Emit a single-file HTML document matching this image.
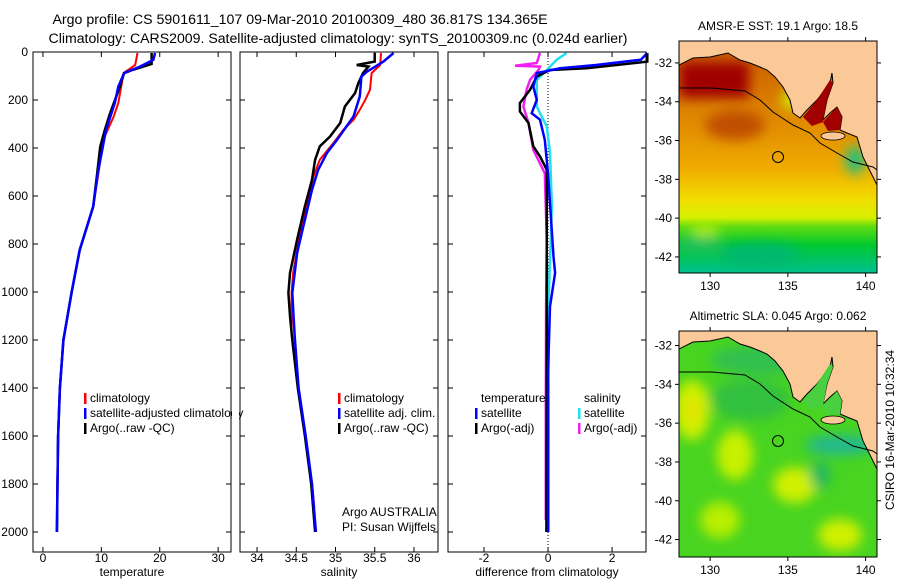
<!DOCTYPE html>
<html><head><meta charset="utf-8"><style>
html,body{margin:0;padding:0;background:#fff}
svg{display:block;font-family:"Liberation Sans",sans-serif}
</style></head><body>
<svg id="fig" width="900" height="580" viewBox="0 0 900 580">
<defs>
<linearGradient id="sstg" x1="0" y1="0" x2="0" y2="1">
<stop offset="0" stop-color="#c65800"/><stop offset="0.35" stop-color="#e08a00"/>
<stop offset="0.55" stop-color="#f0ac00"/><stop offset="0.68" stop-color="#f2dc00"/>
<stop offset="0.76" stop-color="#d8f000"/><stop offset="0.8" stop-color="#60dc10"/>
<stop offset="0.88" stop-color="#00c830"/><stop offset="1" stop-color="#00c090"/>
</linearGradient>
<filter id="bl" x="-50%" y="-50%" width="200%" height="200%"><feGaussianBlur stdDeviation="6"/></filter>
<clipPath id="c1"><rect x="679" y="41" width="198" height="232"/></clipPath>
<clipPath id="c2"><rect x="679" y="331" width="198" height="226"/></clipPath>
</defs>
<text x="300" y="24" text-anchor="middle" font-size="14.2">Argo profile: CS 5901611_107 09-Mar-2010 20100309_480 36.817S 134.365E</text>
<text x="338" y="43" text-anchor="middle" font-size="14.1">Climatology: CARS2009. Satellite-adjusted climatology: synTS_20100309.nc (0.024d earlier)</text>

<!-- SST map -->
<g>
<text x="778" y="30" text-anchor="middle" font-size="12">AMSR-E SST: 19.1 Argo: 18.5</text>
<g clip-path="url(#c1)">
<rect x="679" y="41" width="198" height="232" fill="url(#sstg)"/>
<g filter="url(#bl)">
<rect x="679" y="62" width="70" height="36" fill="#a00000"/>
<ellipse cx="735" cy="125" rx="30" ry="15" fill="#c05000"/>
<ellipse cx="760" cy="255" rx="40" ry="12" fill="#00b870"/>
<ellipse cx="700" cy="245" rx="25" ry="8" fill="#20c060"/>
<ellipse cx="705" cy="230" rx="15" ry="6" fill="#b8ee00"/>
<ellipse cx="855" cy="160" rx="10" ry="14" fill="#20c080"/>
<ellipse cx="790" cy="100" rx="8" ry="10" fill="#d0f000"/>
</g>
<path d="M679,41 L679,65 L693,58 L710,57 L728,53 L740,60 L750,63 L760,67 L767,70 L775,77 L783,87 L790,100 L793,113 L800,118 L807,110 L817,100 L830,83 L832,73 L833,83 L827,100 L823,120 L830,113 L837,107 L842,117 L840,130 L847,133 L857,137 L860,147 L863,157 L873,177 L877,185 L877,41 Z" fill="#fbc898" stroke="#000" stroke-width="1"/>
<path d="M803,117 L817,100 L830,80 L833,83 L827,100 L823,122 L812,126 Z M823,122 L837,107 L842,117 L840,130 L828,131 Z" fill="#a00000"/>
<ellipse cx="833" cy="136" rx="12" ry="4" fill="#fbc898" stroke="#000" stroke-width="0.8"/>
<path d="M679,88 L712,88 L745,91 L760,100 L773,112 L793,125 L810,133 L820,143 L837,153 L853,162 L873,167 L877,170" fill="none" stroke="#000" stroke-width="1"/>
<circle cx="778" cy="157" r="5.5" fill="none" stroke="#000" stroke-width="1"/>
</g>
</g>

<!-- SLA map -->
<g>
<text x="778" y="320" text-anchor="middle" font-size="12">Altimetric SLA: 0.045 Argo: 0.062</text>
<g clip-path="url(#c2)">
<rect x="679" y="331" width="198" height="226" fill="#48d420"/>
<g filter="url(#bl)">
<ellipse cx="692" cy="410" rx="18" ry="30" fill="#d0f000"/>
<ellipse cx="693" cy="410" rx="8" ry="10" fill="#e8e000"/>
<ellipse cx="735" cy="455" rx="18" ry="25" fill="#c8f000"/>
<ellipse cx="795" cy="485" rx="22" ry="18" fill="#d0f000"/>
<ellipse cx="840" cy="535" rx="22" ry="16" fill="#d0f000"/>
<ellipse cx="720" cy="520" rx="20" ry="18" fill="#b8ee00"/>
<ellipse cx="820" cy="475" rx="10" ry="14" fill="#20b860"/>
<ellipse cx="750" cy="400" rx="40" ry="20" fill="#30c040"/>
<ellipse cx="840" cy="445" rx="35" ry="10" fill="#20b890"/>
<ellipse cx="760" cy="360" rx="50" ry="15" fill="#30c050"/>
</g>
<g transform="translate(0,284)">
<path d="M679,41 L679,65 L693,58 L710,57 L728,53 L740,60 L750,63 L760,67 L767,70 L775,77 L783,87 L790,100 L793,113 L800,118 L807,110 L817,100 L830,83 L832,73 L833,83 L827,100 L823,120 L830,113 L837,107 L842,117 L840,130 L847,133 L857,137 L860,147 L863,157 L873,177 L877,185 L877,41 Z" fill="#fbc898" stroke="#000" stroke-width="1"/>
<path d="M803,117 L817,100 L830,80 L833,83 L827,100 L823,122 L812,126 Z M823,122 L837,107 L842,117 L840,130 L828,131 Z" fill="#48d040"/>
<ellipse cx="833" cy="136" rx="12" ry="4" fill="#fbc898" stroke="#000" stroke-width="0.8"/>
<path d="M679,88 L712,88 L745,91 L760,100 L773,112 L793,125 L810,133 L820,143 L837,153 L853,162 L873,167 L877,170" fill="none" stroke="#000" stroke-width="1"/>
<circle cx="778" cy="157" r="5.5" fill="none" stroke="#000" stroke-width="1"/>
</g>
</g>
</g>
<text transform="translate(894,430) rotate(-90)" text-anchor="middle" font-size="12">CSIRO 16-Mar-2010 10:32:34</text>
<g id="dyn"></g>
</svg>
<script>
// ---- data ----
const tClimP = [4,54,88,130,213,270,367,505,644,825,1004,1200,1400,1600,1900];
const tClimV = [16.2,15.8,13.8,13.5,12.9,12.1,10.3,9.5,8.6,6.3,4.9,3.5,2.9,2.6,2.4];
const tSatP = [4,33,61,88,144,213,325,505,644,825,1004,1200,1400,1600,2000];
const tSatV = [19.2,18.9,16.6,13.9,12.9,12.3,10.8,9.4,8.6,6.3,4.9,3.5,2.9,2.6,2.4];
const tArgoP = [4,33,50,75,88,150,255,325,395,505,644,825,1004,1200,1400,1600,2000];
const tArgoV = [18.6,18.6,18.6,15.3,13.9,13.1,11.5,10.6,9.8,9.3,8.6,6.3,4.9,3.5,2.9,2.6,2.4];
const sClimP = [4,54,88,157,199,241,282,324,380,449,518,616,755,921,1004,1171,1400,1600,1800,1900];
const sClimV = [35.58,35.57,35.46,35.44,35.38,35.31,35.23,35.10,34.97,34.80,34.72,34.65,34.55,34.46,34.44,34.44,34.52,34.62,34.70,34.73];
const sSatP = [4,40,82,102,185,268,310,366,421,491,574,727,838,1004,1185,1400,1600,1800,2000];
const sSatV = [35.74,35.61,35.40,35.33,35.31,35.23,35.14,35.02,34.89,34.78,34.70,34.59,34.51,34.45,34.48,34.53,34.62,34.70,34.75];
const sArgoP = [4,40,54,61,88,130,171,227,296,352,393,449,532,643,782,921,1004,1101,1200,1400,1600,1800,2000];
const sArgoV = [35.50,35.50,35.27,35.42,35.35,35.29,35.25,35.12,35.06,34.93,34.80,34.74,34.70,34.61,34.51,34.42,34.40,34.42,34.45,34.52,34.61,34.69,34.74];
const dTSatP = [4,32,54,68,88,144,199,255,282,366,505,852,921,1060,1338,2000];
const dTSatV = [3.1,2.9,1.5,0.38,-0.35,-0.46,-0.35,-0.51,-0.25,-0.1,0,0.17,0.22,0.06,0,0];
const dTArgoP = [4,40,68,75,102,157,213,248,296,393,435,491,1060,2000];
const dTArgoV = [3.1,3.1,1.2,0.06,-0.35,-0.56,-0.88,-0.88,-0.61,-0.46,-0.25,-0.04,-0.04,-0.05];
const dSSatP = [4,32,75,116,227,255,310,421,643,1060,1500,2000];
const dSSatV = [0.58,0.27,-0.04,-0.35,-0.35,-0.25,-0.04,0.06,0.12,0.01,0.02,0.02];
const dSArgoP = [4,46,57,61,75,116,157,227,296,407,505,782,1060,1500,1950];
const dSArgoV = [-0.25,-0.35,-1.03,-0.25,-0.3,-0.56,-0.67,-0.77,-0.61,-0.46,-0.1,-0.04,-0.06,-0.07,-0.07];
const pTicks = [0,200,400,600,800,1000,1200,1400,1600,1800,2000];
const tTicks = [0,10,20,30];
const sTicks = [34,34.5,35,35.5,36];
const dTicks = [-2,0,2];
const lonTicks = [130,135,140];
const latTicks = [-32,-34,-36,-38,-40,-42];

const NS='http://www.w3.org/2000/svg';
const dyn=document.getElementById('dyn');
function mk(tag,attrs,parent){const e=document.createElementNS(NS,tag);for(const k in attrs)e.setAttribute(k,attrs[k]);(parent||dyn).appendChild(e);return e;}
const yTop=52, yScale=0.24;
function yP(p){return yTop+p*yScale;}
function panel(name,x0,x1,vmin,vmax,ticks,label,fmt,yLabels){
  const g=mk('g',{});
  
  
  const xs=v=>x0+(v-vmin)/(vmax-vmin)*(x1-x0);
  const yb=552;
  ticks.forEach(t=>{const x=xs(t);
    mk('line',{x1:x,x2:x,y1:yb,y2:yb-5,stroke:'#000'},g);mk('line',{x1:x,x2:x,y1:yTop,y2:yTop+5,stroke:'#000'},g);
    const tx=mk('text',{x:x,y:yb+10,'text-anchor':'middle','font-size':12},g);tx.textContent=fmt(t);
    
    });
  pTicks.forEach(p=>{const y=yP(p);
    mk('line',{x1:x0,x2:x0+5,y1:y,y2:y,stroke:'#000'},g);mk('line',{x1:x1,x2:x1-5,y1:y,y2:y,stroke:'#000'},g);
    if(yLabels){const tx=mk('text',{x:x0-5,y:y+4,'text-anchor':'end','font-size':12},g);tx.textContent=p;
      
      }});
  const lb=mk('text',{x:(x0+x1)/2,y:576,'text-anchor':'middle','font-size':12},g);lb.textContent=label;
  
  
  return {g,xs,x0,x1};
}
function line(pn,P,V,color,w,name){
  const d=P.map((p,i)=>(i?'L':'M')+pn.xs(V[i]).toFixed(1)+','+yP(p).toFixed(1)).join(' ');
  const e=mk('path',{d:d,fill:'none',stroke:color,'stroke-width':w},pn.g);
  
  
}
function frame(pn){mk('rect',{x:pn.x0,y:yTop,width:pn.x1-pn.x0,height:500,fill:'none',stroke:'#000'},pn.g);}
function legend(pn,x,y,items){items.forEach((it,i)=>{const yy=y+i*15;
  if(it[1])mk('rect',{x:x,y:yy-9,width:2.5,height:11,fill:it[1]},pn.g);
  const t=mk('text',{x:x+6,y:yy,'font-size':12},pn.g);t.textContent=it[0];
  
  });}

const p1=panel('temperature-panel',33,231,-1.7,32.2,tTicks,'temperature',t=>t,true);
line(p1,tClimP,tClimV,'#f00',2,'temp-climatology-line');
line(p1,tArgoP,tArgoV,'#000',2.5,'temp-argo-line');
line(p1,tSatP,tSatV,'#00f',2.5,'temp-satellite-line');
legend(p1,84,402,[['climatology','#f00'],['satellite-adjusted climatology','#00f'],['Argo(..raw -QC)','#000']]);
mk('rect',{x:232,y:52,width:7,height:500,fill:'#fff'});

const p2=panel('salinity-panel',240,438,33.783,36.306,sTicks,'salinity',t=>t,false);
line(p2,sClimP,sClimV,'#f00',2,'sal-climatology-line');
line(p2,sArgoP,sArgoV,'#000',2.5,'sal-argo-line');
line(p2,sSatP,sSatV,'#00f',2.5,'sal-satellite-line');
legend(p2,338,402,[['climatology','#f00'],['satellite adj. clim.','#00f'],['Argo(..raw -QC)','#000']]);
const a1=mk('text',{x:342,y:516,'font-size':12},p2.g);a1.textContent='Argo AUSTRALIA';


const a2=mk('text',{x:342,y:531,'font-size':12},p2.g);a2.textContent='PI: Susan Wijffels';



const p3=panel('difference-panel',448,646,-3.125,3.06,dTicks,'difference from climatology',t=>t,false);
mk('line',{x1:p3.xs(0),x2:p3.xs(0),y1:yTop,y2:552,stroke:'#000','stroke-dasharray':'1,2'},p3.g);
line(p3,dSSatP,dSSatV,'#20e0f0',2.5,'dsal-satellite-line');
line(p3,dSArgoP,dSArgoV,'#f020f0',2.5,'dsal-argo-line');
line(p3,dTArgoP,dTArgoV,'#000',2.5,'dtemp-argo-line');
line(p3,dTSatP,dTSatV,'#00f',2.5,'dtemp-satellite-line');
legend(p3,475,402,[['temperature',null],['satellite','#00f'],['Argo(-adj)','#000']]);
legend(p3,578,402,[['salinity',null],['satellite','#20e0f0'],['Argo(-adj)','#f020f0']]);
mk('rect',{x:448,y:yTop,width:198,height:500,fill:'none',stroke:'#000'});
mk('rect',{x:646.5,y:40,width:30,height:12,fill:'#fff'});
frame(p1);frame(p2);

// map axes
function mapAxes(name,top,bottom,latTop){
  const g=mk('g',{});
  
  
  mk('rect',{x:679,y:top,width:198,height:bottom-top,fill:'none',stroke:'#000'},g);
  const lx=v=>679+(v-128)*15.55;
  const ly=v=>top+(latTop-v)*19.4;
  lonTicks.forEach(v=>{const x=lx(v);mk('line',{x1:x,x2:x,y1:top,y2:top-4,stroke:'#000'},g);
    mk('line',{x1:x,x2:x,y1:bottom,y2:bottom+4,stroke:'#000'},g);
    const t=mk('text',{x:x,y:bottom+17,'text-anchor':'middle','font-size':12},g);t.textContent=v;
    
    });
  latTicks.forEach(v=>{const y=ly(v);if(y<top||y>bottom)return;
    mk('line',{x1:679,x2:675,y1:y,y2:y,stroke:'#000'},g);mk('line',{x1:877,x2:881,y1:y,y2:y,stroke:'#000'},g);
    const t=mk('text',{x:672,y:y+4,'text-anchor':'end','font-size':12},g);t.textContent=v;
    
    });
}
mapAxes('sst-map-axes',41,273,-30.87);
mapAxes('sla-map-axes',331,557,-31.25);
</script>
</body></html>
